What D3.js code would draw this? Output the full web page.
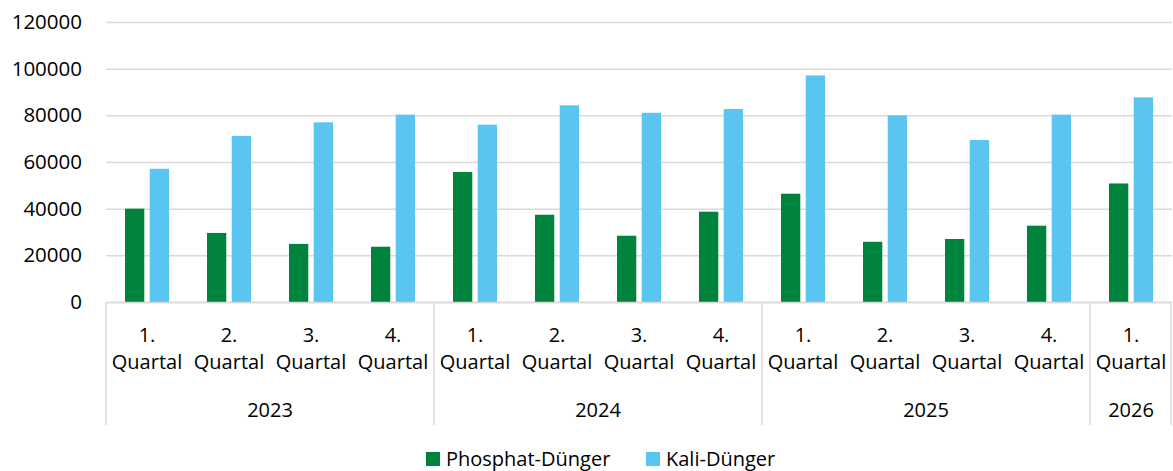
<!DOCTYPE html>
<html>
<head>
<meta charset="utf-8">
<script src="https://cdn.jsdelivr.net/npm/d3@7"></script>
<style>
  html, body { margin: 0; padding: 0; background: #fff; }
  svg { display: block; font-family: "Open Sans", "Noto Sans", sans-serif; }
</style>
</head>
<body>
<svg id="chart" width="1173" height="471"></svg>
<script>
const years = ["2023", "2023", "2023", "2023", "2024", "2024", "2024", "2024", "2025", "2025", "2025", "2025", "2026"];
const quarters = ["1.", "2.", "3.", "4.", "1.", "2.", "3.", "4.", "1.", "2.", "3.", "4.", "1."];
const quarterWord = "Quartal";
const phosphat = [40000, 29600, 24900, 23700, 55700, 37400, 28400, 38700, 46400, 25800, 27000, 32700, 50800];
const kali = [57100, 71200, 77000, 80300, 76000, 84300, 81100, 82700, 97100, 80000, 69400, 80300, 87700];
const seriesNames = ["Phosphat-Dünger", "Kali-Dünger"];
const seriesColors = ["#00843D", "#5BC5F2"];
const yTicks = [0, 20000, 40000, 60000, 80000, 100000, 120000];

(function () {
const FONT = "'Open Sans', sans-serif";
const FS = 20;
const svg = d3.select("#chart");
const mLeft = 106, mRight = 1172, mTop = 22, mBottom = 302;
const idx = d3.range(years.length);

const x = d3.scaleBand().domain(idx).range([mLeft, mRight]).paddingInner(0).paddingOuter(0);
const y = d3.scaleLinear().domain([0, 120000]).range([mBottom, mTop]);
const inner = d3.scaleBand().domain([0, 1]).range([-22, 22]).paddingInner(0.22).paddingOuter(0);

// gridlines
svg.append("g").selectAll("line").data(yTicks).join("line")
  .attr("x1", mLeft).attr("x2", mRight)
  .attr("y1", d => y(d) + 0.5).attr("y2", d => y(d) + 0.5)
  .attr("stroke", "#d9d9d9").attr("stroke-width", 1.5);

// y labels
const yAxis = d3.axisLeft(y).tickValues(yTicks).tickSize(0).tickPadding(24).tickFormat(d3.format("d"));
const gy = svg.append("g").attr("transform", `translate(${mLeft},0)`).call(yAxis);
gy.select(".domain").remove();
gy.attr("font-size", null).attr("font-family", null);
gy.selectAll("text").style("font-size", "20.5px").style("font-family", FONT).attr("fill", "#000");

// bars
const series = [phosphat, kali];
series.forEach((vals, s) => {
  svg.append("g").selectAll("rect").data(idx).join("rect")
    .attr("x", i => x(i) + x.bandwidth() / 2 + inner(s))
    .attr("width", inner.bandwidth())
    .attr("y", i => y(vals[i]))
    .attr("height", i => y(0) - y(vals[i]))
    .attr("fill", seriesColors[s]);
});

// category axis lines
const axisG = svg.append("g");
axisG.append("line").attr("x1", mLeft).attr("x2", mRight).attr("y1", mBottom + 0.5).attr("y2", mBottom + 0.5)
  .attr("stroke", "#d9d9d9").attr("stroke-width", 1.5);

// year group boundaries
const groups = [];
years.forEach((yr, i) => {
  if (!groups.length || groups[groups.length - 1].year !== yr) groups.push({ year: yr, start: i, end: i });
  else groups[groups.length - 1].end = i;
});
const boundaries = [x(0)].concat(groups.map(g => x(g.end) + x.bandwidth()));
axisG.selectAll("line.sep").data(boundaries).join("line").attr("class", "sep")
  .attr("x1", d => Math.min(d, mRight - 1)).attr("x2", d => Math.min(d, mRight - 1))
  .attr("y1", mBottom).attr("y2", 425)
  .attr("stroke", "#d9d9d9").attr("stroke-width", 1.5);

// quarter labels
const qg = svg.append("g").style("font-size", FS + "px").style("font-family", FONT).attr("fill", "#000").attr("text-anchor", "middle");
qg.selectAll("text.q1").data(idx).join("text").attr("class", "q1")
  .attr("x", i => x(i) + x.bandwidth() / 2).attr("y", 342).text(i => quarters[i]);
qg.selectAll("text.q2").data(idx).join("text").attr("class", "q2")
  .attr("x", i => x(i) + x.bandwidth() / 2).attr("y", 369).text(quarterWord);

// year labels
qg.selectAll("text.yr").data(groups).join("text").attr("class", "yr")
  .attr("x", g => (x(g.start) + x(g.end) + x.bandwidth()) / 2).attr("y", 417).text(g => g.year);

// legend
const legend = svg.append("g").style("font-size", FS + "px").style("font-family", FONT);
const legendX = [426, 646];
legendX.forEach((lx, s) => {
  legend.append("rect").attr("x", lx).attr("y", 452).attr("width", 14).attr("height", 14).attr("fill", seriesColors[s]);
  legend.append("text").attr("x", lx + 20).attr("y", 465.5).attr("fill", "#000").text(seriesNames[s]);
});
})();
</script>
</body>
</html>
